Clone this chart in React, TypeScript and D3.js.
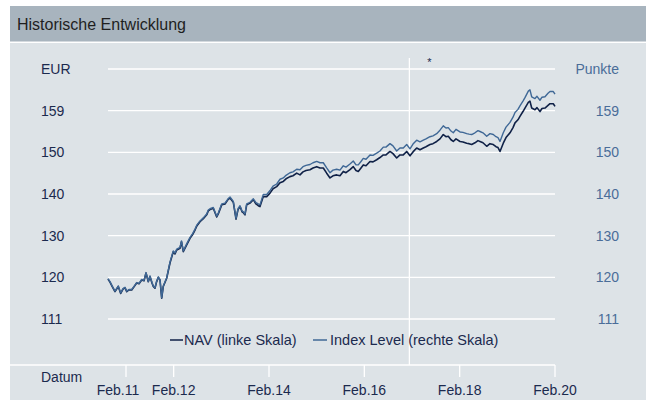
import React from "react";
import * as d3 from "d3";

// ---- data (decimal years) ----
const dates = [
  2010.707, 2010.749, 2010.791, 2010.854, 2010.923, 2010.974, 2011.022, 2011.064, 2011.1, 2011.148,
  2011.205, 2011.253, 2011.309, 2011.358, 2011.414, 2011.463, 2011.505, 2011.553, 2011.588, 2011.63,
  2011.658, 2011.693, 2011.725, 2011.763, 2011.798, 2011.834, 2011.867, 2011.939, 2012.008, 2012.077,
  2012.113, 2012.149, 2012.218, 2012.249, 2012.287, 2012.358, 2012.428, 2012.48, 2012.533, 2012.574,
  2012.637, 2012.707, 2012.778, 2012.811, 2012.847, 2012.916, 2012.988, 2013.021, 2013.093, 2013.162,
  2013.225, 2013.267, 2013.336, 2013.393, 2013.435, 2013.477, 2013.519, 2013.546, 2013.581, 2013.617,
  2013.686, 2013.756, 2013.812, 2013.86, 2013.896, 2013.965, 2014.037, 2014.106, 2014.169, 2014.246,
  2014.316, 2014.385, 2014.442, 2014.525, 2014.588, 2014.666, 2014.735, 2014.798, 2014.861, 2014.945,
  2015.008, 2015.086, 2015.155, 2015.224, 2015.295, 2015.365, 2015.427, 2015.505, 2015.574, 2015.644,
  2015.7, 2015.784, 2015.853, 2015.91, 2015.958, 2016.015, 2016.063, 2016.12, 2016.204, 2016.267,
  2016.344, 2016.413, 2016.483, 2016.539, 2016.623, 2016.686, 2016.764, 2016.833, 2016.902, 2016.974,
  2017.043, 2017.106, 2017.183, 2017.253, 2017.322, 2017.378, 2017.462, 2017.525, 2017.603, 2017.672,
  2017.741, 2017.798, 2017.846, 2017.903, 2017.951, 2018.008, 2018.092, 2018.155, 2018.232, 2018.281,
  2018.337, 2018.406, 2018.469, 2018.511, 2018.574, 2018.652, 2018.721, 2018.79, 2018.847, 2018.889,
  2018.931, 2019.0, 2019.057, 2019.141, 2019.204, 2019.246, 2019.308, 2019.35, 2019.413, 2019.455,
  2019.525, 2019.56, 2019.596, 2019.665, 2019.707, 2019.77, 2019.812, 2019.875, 2019.938, 2019.98,
  2020.049, 2020.085,
];

const navValues = [
  120.2, 119.5, 118.6, 117.3, 118.5, 116.9, 117.9, 118.2, 117.3, 117.7,
  117.7, 118.4, 119.3, 119.1, 120.0, 119.8, 121.6, 119.6, 120.8, 119.3,
  118.5, 118.1, 119.5, 120.6, 120.0, 115.8, 118.5, 120.4, 123.9, 126.5,
  126.0, 126.9, 127.3, 128.8, 126.5, 128.1, 129.6, 130.4, 131.5, 132.5,
  133.4, 134.1, 135.0, 135.9, 136.2, 136.5, 134.5, 135.2, 137.3, 137.5,
  138.5, 138.9, 137.9, 134.0, 136.2, 136.9, 135.7, 135.5, 135.0, 137.3,
  137.7, 138.5, 137.5, 137.1, 136.9, 139.2, 139.2, 140.0, 141.0, 141.5,
  142.4, 142.7, 143.3, 143.8, 144.0, 144.6, 144.2, 144.9, 145.2, 145.4,
  145.8, 146.1, 145.8, 145.8, 144.6, 143.5, 144.0, 144.2, 144.0, 145.0,
  144.7, 145.4, 146.1, 145.2, 145.0, 145.8, 146.5, 146.3, 147.3, 147.2,
  147.7, 148.2, 148.8, 148.8, 149.6, 149.1, 148.1, 148.8, 148.8, 149.6,
  148.6, 149.5, 150.4, 150.0, 150.4, 150.7, 151.2, 151.4, 151.9, 152.5,
  153.5, 153.0, 153.1, 152.3, 151.9, 152.5, 151.9, 151.8, 151.5, 151.4,
  151.2, 151.6, 152.1, 151.9, 151.6, 150.8, 151.4, 151.2, 150.7, 150.5,
  149.6, 151.5, 152.8, 153.9, 155.1, 156.2, 156.9, 157.7, 158.8, 159.6,
  160.9, 161.2, 159.6, 159.2, 159.7, 158.8, 159.5, 159.6, 160.2, 160.6,
  160.6, 160.0,
];

const indexValues = [
  120.3, 119.6, 118.7, 117.4, 118.6, 117.0, 118.0, 118.3, 117.4, 117.8,
  117.8, 118.5, 119.4, 119.2, 120.1, 119.9, 121.7, 119.7, 120.9, 119.4,
  118.6, 118.2, 119.6, 120.7, 120.1, 115.9, 118.6, 120.5, 124.1, 126.7,
  126.2, 127.1, 127.5, 129.0, 126.7, 128.3, 129.8, 130.6, 131.7, 132.7,
  133.6, 134.3, 135.2, 136.1, 136.4, 136.7, 134.7, 135.4, 137.5, 137.7,
  138.7, 139.1, 138.1, 134.2, 136.4, 137.1, 135.9, 135.7, 135.2, 137.5,
  137.9, 138.7, 137.8, 137.5, 137.3, 139.7, 139.7, 140.6, 141.6, 142.1,
  143.2, 143.5, 144.1, 144.7, 144.9, 145.5, 145.4, 146.1, 146.4, 146.6,
  147.0, 147.3, 147.0, 147.0, 145.8, 144.7, 145.3, 145.5, 145.3, 146.3,
  146.0, 146.7, 147.4, 146.5, 146.5, 147.3, 148.0, 147.8, 148.8, 148.7,
  149.2, 149.7, 150.6, 150.6, 151.4, 150.9, 149.7, 150.4, 150.4, 151.2,
  150.2, 151.3, 152.2, 151.8, 152.2, 152.5, 153.0, 153.2, 153.7, 154.5,
  155.5, 155.0, 155.1, 154.3, 153.9, 154.7, 154.1, 154.0, 153.7, 153.6,
  153.5, 153.9, 154.4, 154.2, 153.9, 153.1, 153.7, 153.5, 153.0, 152.8,
  151.9, 153.9, 155.2, 156.3, 157.5, 158.6, 159.3, 160.1, 161.2, 162.0,
  163.5, 163.8, 162.2, 161.8, 162.3, 161.4, 162.1, 162.2, 163.0, 163.4,
  163.4, 162.8,
];

const gridValues = [111, 120.6, 130.2, 139.8, 149.4, 159, 168.6];
const yTickLabels = ["111", "120", "130", "140", "150", "159"];
const xTickDates = [2011.085, 2012.085, 2014.085, 2016.085, 2018.085, 2020.085];
const xTickLabels = ["Feb.11", "Feb.12", "Feb.14", "Feb.16", "Feb.18", "Feb.20"];
const markerDate = 2017.03;

const W = 646;
const H = 400;
const FONT = "'Liberation Sans', Arial, Helvetica, sans-serif";
const NAV_COLOR = "#0f2147";
const INDEX_COLOR = "#3f6896";
const TEXT_COLOR = "#1b2a4e";
const RIGHT_COLOR = "#4a6d99";

export default function App() {
  const x = d3.scaleLinear().domain([2011.085, 2020.085]).range([126, 555]);
  const y = d3.scaleLinear().domain([111, 168.6]).range([319, 69]);
  const plotLeft = 108;
  const plotRight = 555;
  const axisY = 365;

  const line = d3
    .line<number>()
    .x((_, i) => x(dates[i]))
    .y((d) => y(d));

  return (
    <svg
      width={W}
      height={H}
      style={{ position: "absolute", left: 0, top: 0, display: "block" }}
      fontFamily={FONT}
    >
      <rect x={0} y={0} width={W} height={H} fill="#ffffff" />
      {/* title bar */}
      <rect x={10} y={6} width={W - 10} height={35.5} fill="#a8b4be" />
      <text x={17} y={29.5} fontSize={16} fill="#1f1f1f">
        Historische Entwicklung
      </text>
      {/* panel */}
      <rect x={10} y={43} width={W - 10} height={H - 43} fill="#dde3e7" />

      {/* gridlines */}
      {gridValues.map((v, i) => (
        <line
          key={"g" + i}
          x1={plotLeft}
          x2={plotRight}
          y1={y(v)}
          y2={y(v)}
          stroke="#ffffff"
          strokeWidth={1.3}
        />
      ))}

      {/* left labels */}
      {yTickLabels.map((t, i) => (
        <text
          key={"l" + i}
          x={41}
          y={y(gridValues[i])}
          dy="0.36em"
          fontSize={14}
          fill={TEXT_COLOR}
        >
          {t}
        </text>
      ))}
      <text x={41} y={y(gridValues[6])} dy="0.36em" fontSize={14} fill={TEXT_COLOR}>
        EUR
      </text>

      {/* right labels */}
      {yTickLabels.map((t, i) => (
        <text
          key={"r" + i}
          x={619}
          y={y(gridValues[i])}
          dy="0.36em"
          fontSize={14}
          textAnchor="end"
          fill={RIGHT_COLOR}
        >
          {t}
        </text>
      ))}
      <text
        x={619}
        y={y(gridValues[6])}
        dy="0.36em"
        fontSize={14}
        textAnchor="end"
        fill={RIGHT_COLOR}
      >
        Punkte
      </text>

      {/* bottom axis line */}
      <line x1={10} x2={plotRight} y1={axisY} y2={axisY} stroke="#ffffff" strokeWidth={1.3} />
      {xTickDates.map((d, i) => (
        <g key={"t" + i}>
          <line
            x1={x(d)}
            x2={x(d)}
            y1={axisY}
            y2={axisY + 12}
            stroke="#ffffff"
            strokeWidth={1.3}
          />
          <text
            x={x(d) - (i === 0 ? 8 : 0)}
            y={390}
            dy="0.36em"
            fontSize={14}
            textAnchor="middle"
            fill={TEXT_COLOR}
          >
            {xTickLabels[i]}
          </text>
        </g>
      ))}
      <text x={41} y={377} dy="0.36em" fontSize={14} fill={TEXT_COLOR}>
        Datum
      </text>

      {/* marker line */}
      <line
        x1={x(markerDate)}
        x2={x(markerDate)}
        y1={58}
        y2={axisY}
        stroke="#ffffff"
        strokeWidth={1.3}
      />
      <text x={x(markerDate) + 20} y={66} fontSize={11} textAnchor="middle" fill={TEXT_COLOR}>
        *
      </text>

      {/* series */}
      <path d={line(navValues) || ""} fill="none" stroke={NAV_COLOR} strokeWidth={1.6} strokeLinejoin="round" />
      <path d={line(indexValues) || ""} fill="none" stroke={INDEX_COLOR} strokeWidth={1.4} strokeLinejoin="round" />

      {/* legend */}
      <line x1={170} x2={183} y1={340} y2={340} stroke={NAV_COLOR} strokeWidth={1.5} />
      <text x={184} y={340} dy="0.36em" fontSize={14.5} fill={TEXT_COLOR}>
        NAV (linke Skala)
      </text>
      <line x1={313} x2={327} y1={340} y2={340} stroke={INDEX_COLOR} strokeWidth={1.5} />
      <text x={330} y={340} dy="0.36em" fontSize={14.5} fill={TEXT_COLOR}>
        Index Level (rechte Skala)
      </text>
    </svg>
  );
}
